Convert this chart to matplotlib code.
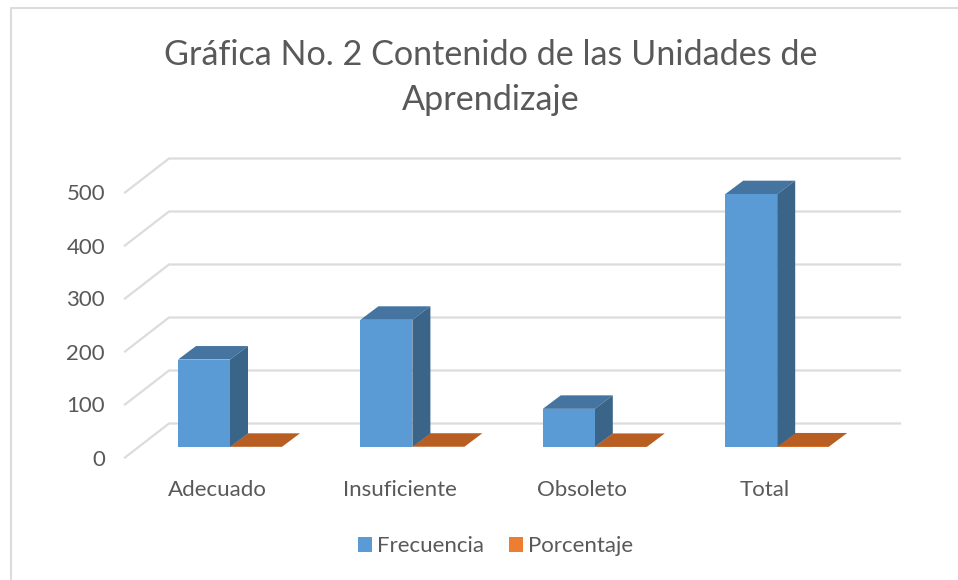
import matplotlib
matplotlib.use("Agg")
import matplotlib.pyplot as plt
from matplotlib.patches import Patch

plt.rcParams['font.family'] = ['Lato', 'DejaVu Sans']

categories = ["Adecuado", "Insuficiente", "Obsoleto", "Total"]
frecuencia = [165, 240, 72, 477]
porcentaje = [0.35, 0.50, 0.15, 1.00]
y_ticks = [0, 100, 200, 300, 400, 500]
title = "Gráfica No. 2 Contenido de las Unidades de\nAprendizaje"

W, H = 958, 580
PX_X = 182.4   # pixels per category
PX_Y = 0.53    # pixels per value unit
X0, Y0 = 230, 457.5  # pixel position of x=0, value=0 on front plane

fig = plt.figure(figsize=(W / 100, H / 100), dpi=100, facecolor="white")
ax = fig.add_axes([0, 0, 1, 1])
ax.set_xlim(-X0 / PX_X, (W - X0) / PX_X)
ax.set_ylim((Y0 - H) / PX_Y, Y0 / PX_Y)
ax.axis("off")

dxg, dyg = 44 / PX_X, 34 / PX_Y       # wall depth
dxb, dyb = 18 / PX_X, 13.5 / PX_Y     # bar depth
base = 10.5 / PX_Y                    # bar floor above the front plane's zero
bw = 52 / PX_X
grid_end = (900 - X0) / PX_X
grid_c = "#dcdcdc"
text_c = "#595959"

for t in y_ticks:
    ax.plot([-105 / PX_X, -105 / PX_X + dxg, grid_end], [t, t + dyg, t + dyg],
            color=grid_c, lw=1.6, solid_joinstyle="miter", zorder=1)
    ax.text(-125 / PX_X, t - 2 / PX_Y, str(t), ha="right", va="center", fontsize=16, color=text_c)

for i, cat in enumerate(categories):
    v = frecuencia[i]
    # blue bar
    ax.bar(i - bw, v, bw, bottom=base, align="edge", color="#5B9BD5", zorder=4)
    ax.fill([i - bw, i, i + dxb, i - bw + dxb], [base + v, base + v, base + v + dyb, base + v + dyb],
            color="#44749F", lw=0, zorder=3)
    ax.fill([i, i + dxb, i + dxb, i], [base, base + dyb, base + v + dyb, base + v],
            color="#3A6488", lw=0, zorder=3)
    # orange bar
    p = porcentaje[i]
    ax.bar(i, p, bw, bottom=base, align="edge", color="#ED7D31", zorder=2.5)
    ax.fill([i, i + bw, i + bw + dxb, i + dxb], [base + p, base + p, base + p + dyb, base + p + dyb],
            color="#B85E22", lw=0, zorder=2.6)
    ax.text(i - 0.07, (Y0 - 489.5) / PX_Y, cat, ha="center", va="center", fontsize=16, color=text_c)

ax.text((490.5 - X0) / PX_X, (Y0 - 77.5) / PX_Y, title, ha="center", va="center", fontsize=24.6,
        color=text_c, linespacing=1.47)

handles = [Patch(facecolor="#5B9BD5", lw=0, label="Frecuencia"),
           Patch(facecolor="#ED7D31", lw=0, label="Porcentaje")]
ax.legend(handles=handles, loc="center", ncols=2, frameon=False, fontsize=16, labelcolor=text_c,
          bbox_to_anchor=(495.5 / W, 1 - 546 / H), bbox_transform=fig.transFigure,
          handlelength=0.64, handleheight=0.64, handletextpad=0.2, columnspacing=1.13)

# chart frame
ax.plot([11 / W, 11 / W, 958 / W], [0, 1 - 7.5 / H, 1 - 7.5 / H], transform=ax.transAxes,
        color=grid_c, lw=1.5, zorder=0, clip_on=False)

fig.savefig("out.png", dpi=100)
